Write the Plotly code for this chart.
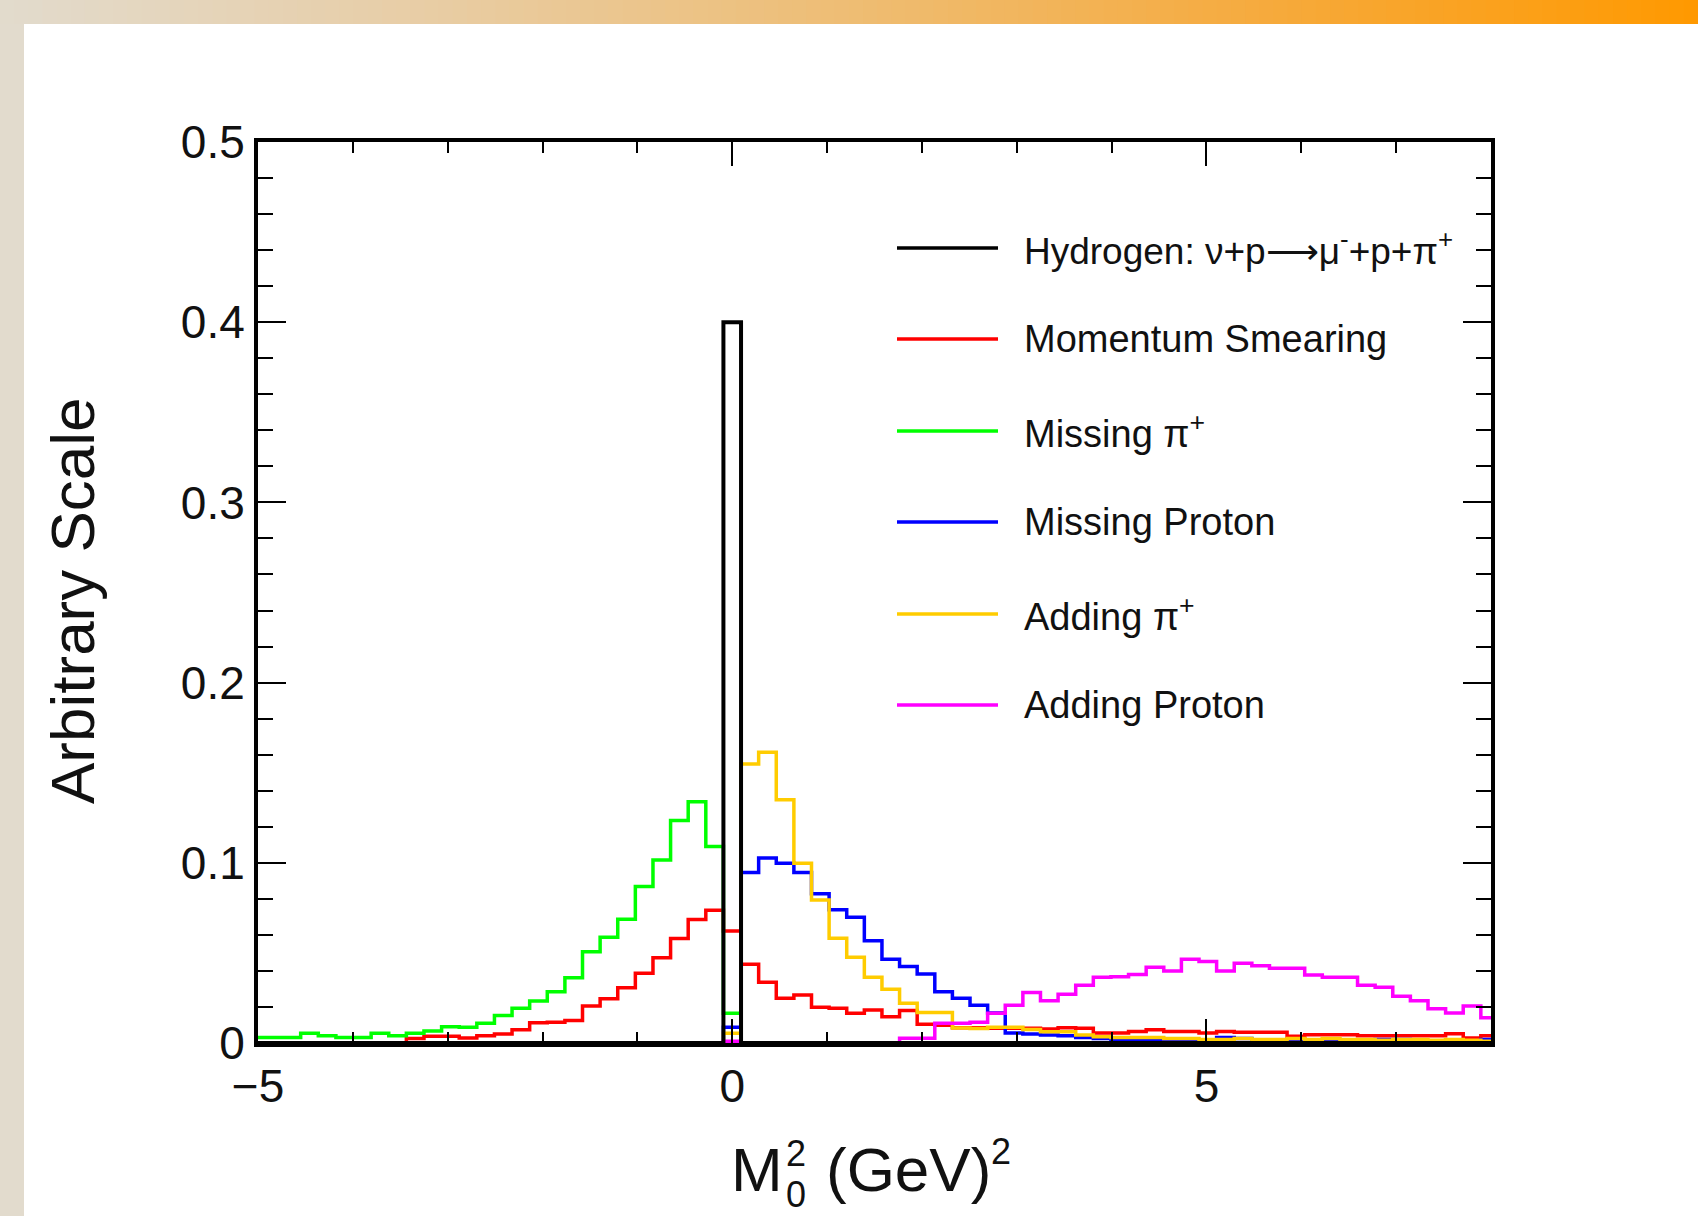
import plotly.graph_objects as go

# ---------------- data ----------------
# Uniform histogram bins: width 13/70, bin k centred at k*width, k = -27 .. 43
BIN_WIDTH = 13.0 / 70.0
FIRST_BIN = -27
N_BINS = 71

series_names = [
    "Hydrogen: \u03bd+p\u27f6\u03bc<sup>-</sup>+p+\u03c0<sup>+</sup>",
    "Momentum Smearing",
    "Missing \u03c0<sup>+</sup>",
    "Missing Proton",
    "Adding \u03c0<sup>+</sup>",
    "Adding Proton",
]
series_colors = ["#000000", "#ff0000", "#00ff00", "#0000ff", "#ffcc00", "#ff00ff"]

# values per bin, k = -27 ... 43
hydrogen = [0.0] * 27 + [0.4] + [0.0] * 43

momentum_smearing = [
    0, 0, 0, 0, 0, 0, 0, 0, 0,                                  # -27..-19
    0.0025, 0.0038, 0.0038, 0.0028, 0.004, 0.005, 0.0074,          # -18..-12
    0.0113, 0.0115, 0.0125, 0.0206, 0.0246, 0.0307, 0.0387,        # -11..-5
    0.0473, 0.058, 0.0685, 0.0737,                                 # -4..-1
    0.0622,                                                        # 0
    0.0437, 0.0337, 0.0248, 0.0267, 0.0198, 0.0193, 0.0165,        # 1..7
    0.0183, 0.0146, 0.018, 0.0104, 0.0098, 0.0085, 0.0085,         # 8..14
    0.0082, 0.0082, 0.0082, 0.0078, 0.0085, 0.0082, 0.0055,        # 15..21
    0.0055, 0.0064, 0.0074, 0.0064, 0.0064, 0.0055, 0.0064,        # 22..28
    0.006, 0.006, 0.006, 0.0037, 0.0046, 0.0046, 0.0046,           # 29..35
    0.004, 0.004, 0.004, 0.004, 0.004, 0.0052, 0.0028, 0.004,      # 36..43
]

missing_pi = [
    0.003, 0.003, 0.003, 0.0054, 0.004, 0.003, 0.003,              # -27..-21
    0.0054, 0.004, 0.0054, 0.0067, 0.009, 0.0088, 0.011,           # -20..-14
    0.0153, 0.0193, 0.0233, 0.0285, 0.0362, 0.0507, 0.0587,        # -13..-7
    0.0687, 0.0869, 0.1015, 0.1235, 0.1339, 0.109,                 # -6..-1
    0.0165,                                                        # 0
] + [0.0] * 43

missing_proton = [0.0] * 27 + [
    0.0087,                                                        # 0
    0.0946, 0.1026, 0.0998, 0.0946, 0.0828, 0.0739, 0.0698,        # 1..7
    0.0568, 0.0465, 0.0424, 0.0383, 0.0285, 0.0248, 0.021,         # 8..14
    0.0167, 0.0055, 0.005, 0.0045, 0.004, 0.003, 0.0025,           # 15..21
    0.002, 0.002, 0.002, 0.002, 0.0015, 0.0015, 0.003,             # 22..28
    0.0025, 0.0015, 0.0015, 0.001, 0.001, 0.002, 0.0015,           # 29..35
    0.001, 0.002, 0.002, 0.001, 0.001, 0.0015, 0.001, 0.002,       # 36..43
]

adding_pi = [0.0] * 27 + [
    0.0054,                                                        # 0
    0.1548, 0.1613, 0.135, 0.0998, 0.0794, 0.0581, 0.0476,         # 1..7
    0.0365, 0.0298, 0.022, 0.0169, 0.0169, 0.0083, 0.008,          # 8..14
    0.0087, 0.0087, 0.0075, 0.0063, 0.0063, 0.0045, 0.0035,        # 15..21
    0.003, 0.003, 0.003, 0.0025, 0.0025, 0.002, 0.002,             # 22..28
    0.0025, 0.002, 0.002, 0.0025, 0.002, 0.0025, 0.002,            # 29..35
    0.002, 0.0015, 0.002, 0.002, 0.0015, 0.002, 0.0015, 0.001,     # 36..43
]

adding_proton = [0.0] * 27 + [
    0.001,                                                         # 0
    0, 0, 0, 0, 0, 0, 0, 0, 0,                                     # 1..9
    0.0026, 0.0026, 0.011, 0.011, 0.0115, 0.0165, 0.021,           # 10..16
    0.028, 0.0235, 0.027, 0.032, 0.0365, 0.0368, 0.038,            # 17..23
    0.042, 0.040, 0.0465, 0.0452, 0.040, 0.0443, 0.0428,           # 24..30
    0.0415, 0.0415, 0.0378, 0.0365, 0.0365, 0.032, 0.031,          # 31..37
    0.026, 0.0235, 0.019, 0.0167, 0.0206, 0.014,                   # 38..43
]

all_series = [hydrogen, momentum_smearing, missing_pi, missing_proton, adding_pi, adding_proton]

# x title pieces: M with stacked sub "0" / sup "2", then "(GeV)" and sup "2"
x_title_parts = ["M", "2", "0", "(GeV)", "2"]
y_title = "Arbitrary Scale"

# ---------------- geometry ----------------
W, H = 1698, 1216
L, R, T, B = 258, 1491, 142, 1043          # plot area in pixels
PW, PH = R - L, B - T
FONT = "Liberation Sans, Arial, Helvetica, sans-serif"
TXT = "#111111"


def px(xp):
    return (xp - L) / PW


def py(yp):
    return (B - yp) / PH


edges = [(FIRST_BIN + i - 0.5) * BIN_WIDTH for i in range(N_BINS + 1)]

fig = go.Figure()

# coloured histograms first, hydrogen (black) on top
order = [1, 2, 3, 4, 5, 0]
for idx in order:
    vals = all_series[idx]
    fig.add_trace(go.Scatter(
        x=edges,
        y=list(vals) + [vals[-1]],
        mode="lines",
        line=dict(shape="hv", color=series_colors[idx], width=4 if idx == 0 else 3.5),
        name=series_names[idx],
        showlegend=False,
        hoverinfo="skip",
    ))

shapes = []
# top gradient band
stops = [(0.0, (226, 219, 205)), (0.25, (232, 205, 165)), (0.5, (238, 189, 116)),
         (0.75, (246, 170, 60)), (1.0, (255, 153, 0))]


def grad(t):
    for (t0, c0), (t1, c1) in zip(stops[:-1], stops[1:]):
        if t <= t1:
            f = (t - t0) / (t1 - t0)
            return "rgb(%d,%d,%d)" % tuple(round(a + (b - a) * f) for a, b in zip(c0, c1))
    return "rgb(255,153,0)"


NSEG = 120
for i in range(NSEG):
    x0p = W * i / NSEG
    x1p = W * (i + 1) / NSEG + 1
    shapes.append(dict(type="rect", xref="paper", yref="paper",
                       x0=px(x0p), x1=px(x1p), y0=py(24), y1=py(0),
                       fillcolor=grad((i + 0.5) / NSEG), line=dict(width=0), layer="below"))
# left strip
shapes.append(dict(type="rect", xref="paper", yref="paper",
                   x0=px(0), x1=px(24), y0=py(H), y1=py(24),
                   fillcolor="rgb(226,219,205)", line=dict(width=0), layer="below"))

# legend lines
legend_rows = [248, 339, 431, 522, 614, 705]
for i, yr in enumerate(legend_rows):
    shapes.append(dict(type="line", xref="paper", yref="paper",
                       x0=px(897), x1=px(998), y0=py(yr), y1=py(yr),
                       line=dict(color=series_colors[i], width=3.5)))

annotations = []
for i, yr in enumerate(legend_rows):
    annotations.append(dict(xref="paper", yref="paper", x=px(1022), y=py(yr),
                            xanchor="left", yanchor="middle", showarrow=False,
                            text=series_names[i],
                            font=dict(family=FONT, size=37 if i == 0 else 38, color=TXT)))

annotations.append(dict(xref="paper", yref="paper", x=px(72), y=py(601),
                        xanchor="center", yanchor="middle", showarrow=False,
                        textangle=-90, text=y_title,
                        font=dict(family=FONT, size=62, color=TXT)))

# x-axis title built from pieces
title_specs = [
    # text, x, xanchor, y-centre, size
    (x_title_parts[0], 784, "right", 1169, 62),
    (x_title_parts[1], 785, "left", 1153, 36),
    (x_title_parts[2], 785, "left", 1194, 36),
    (x_title_parts[3], 825, "left", 1169, 62),
    (x_title_parts[4], 990, "left", 1151, 36),
]
for text, xp, xa, yp, size in title_specs:
    annotations.append(dict(xref="paper", yref="paper", x=px(xp), y=py(yp),
                            xanchor=xa, yanchor="middle", showarrow=False,
                            text=text, borderpad=0,
                            font=dict(family=FONT, size=size, color=TXT)))

axis_common = dict(showline=True, linewidth=4, linecolor="black", mirror="ticks",
                   ticks="inside", tickcolor="black", tickwidth=2,
                   showgrid=False, zeroline=False,
                   tickfont=dict(family=FONT, size=46, color=TXT))

fig.update_layout(
    width=W, height=H,
    margin=dict(l=L, r=W - R, t=T, b=H - B, pad=0),
    paper_bgcolor="white", plot_bgcolor="white",
    showlegend=False,
    shapes=shapes, annotations=annotations,
    xaxis=dict(range=[-5, 8], tickmode="linear", tick0=0, dtick=5, ticklen=24,
               minor=dict(tick0=0, dtick=1, ticks="inside", ticklen=11,
                          tickwidth=2, tickcolor="black"),
               **axis_common),
    yaxis=dict(range=[0, 0.5], tickmode="linear", tick0=0, dtick=0.1, ticklen=28,
               minor=dict(tick0=0, dtick=0.02, ticks="inside", ticklen=15,
                          tickwidth=2, tickcolor="black"),
               **axis_common),
)

fig.write_html("out.html")
